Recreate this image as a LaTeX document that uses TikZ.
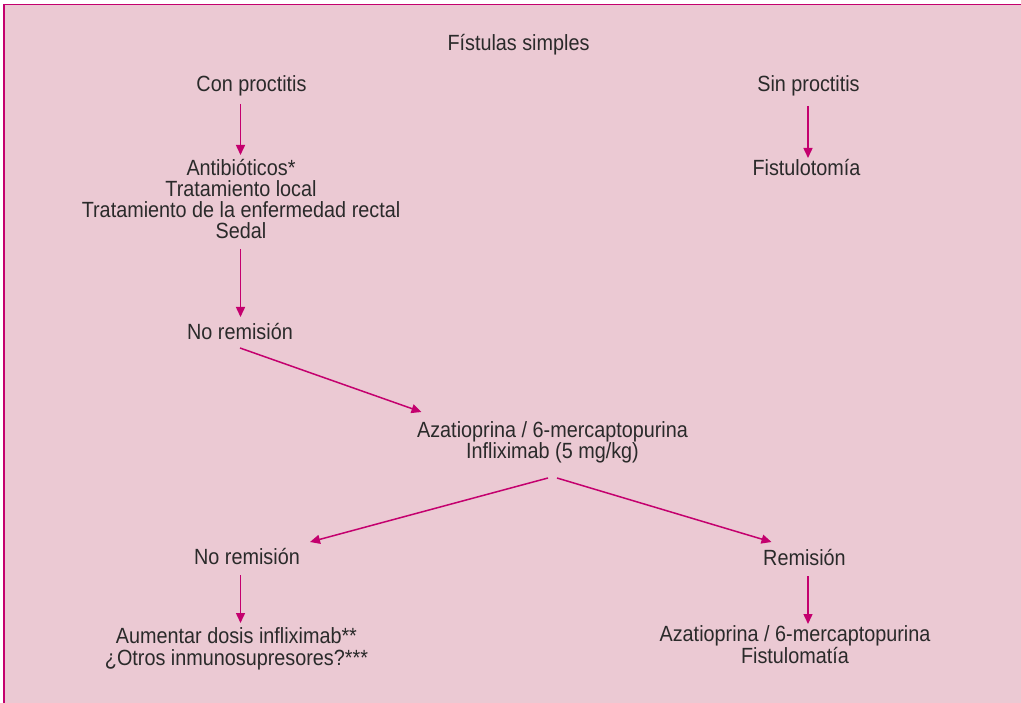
\documentclass[tikz,border=0pt]{standalone}
\usepackage{fontspec}
\setmainfont{Liberation Sans}[FakeStretch=0.9]
\usetikzlibrary{arrows.meta,calc}

\definecolor{panel}{HTML}{EBC9D3}
\definecolor{accent}{HTML}{C4006E}
\definecolor{ink}{HTML}{2A2A2A}

\tikzset{
  label/.style={inner sep=0pt, anchor=base, align=center, text=ink,
    font=\fontsize{22}{21.3}\selectfont},
  arr/.style={draw=accent, line width=1.5pt,
    -{Triangle[length=10pt,width=9pt]}},
}

\begin{document}
\begin{tikzpicture}[x=1pt,y=-1pt]
  \useasboundingbox (0,0) rectangle (1021,703);
  % panel with its top and left rule
  \fill[white] (0,0) rectangle (1021,703);
  \fill[panel] (3.8,4.6) rectangle (1021,703);
  \draw[accent, line width=1.7pt] (3.8,703) -- (3.8,4.6) -- (1021,4.6);

  % labels (multi-line ones sit on the baseline of their last line)
  \node[label] (fs)  at (518.5,51)  {Fístulas simples};
  \node[label] (cp)  at (251.5,92)  {Con proctitis};
  \node[label] (sp)  at (808.5,92)  {Sin proctitis};
  \node[label] (ab)  at (241,239)   {Antibióticos*\\Tratamiento local\\Tratamiento de la enfermedad rectal\\Sedal};
  \node[label] (fi)  at (806.5,176) {Fistulotomía};
  \node[label] (nr1) at (240,340)   {No remisión};
  \node[label] (aza) at (552.5,459) {Azatioprina / 6-mercaptopurina\\Infliximab (5 mg/kg)};
  \node[label] (nr2) at (247,564)   {No remisión};
  \node[label] (rem) at (804.5,565) {Remisión};
  \node[label] (aum) at (236.5,665) {Aumentar dosis infliximab**\\¿Otros inmunosupresores?***};
  \node[label] (az2) at (795,663)   {Azatioprina / 6-mercaptopurina\\Fistulomatía};

  % connectors
  \draw[arr] ($(cp.base)+(-11,12)$) -- ($(ab.base)+(-0.5,-84)$);
  \draw[arr] ($(sp.base)+(-0.5,14)$) -- ($(fi.base)+(1.5,-18)$);
  \draw[arr] ($(ab.base)+(-0.5,10)$) -- ($(nr1.base)+(0.5,-23)$);
  \draw[arr] ($(nr1.base)+(0,8)$) -- ($(aza.base)+(-131,-47)$);
  \draw[arr] ($(aza.base)+(-4.5,19)$) -- ($(nr2.base)+(63,-22)$);
  \draw[arr] ($(aza.base)+(4.5,19)$) -- ($(rem.base)+(-33,-23)$);
  \draw[arr] ($(nr2.base)+(-6.5,11)$) -- ($(aum.base)+(4,-42)$);
  \draw[arr] ($(rem.base)+(3.5,11)$) -- ($(az2.base)+(13,-39)$);
\end{tikzpicture}
\end{document}
